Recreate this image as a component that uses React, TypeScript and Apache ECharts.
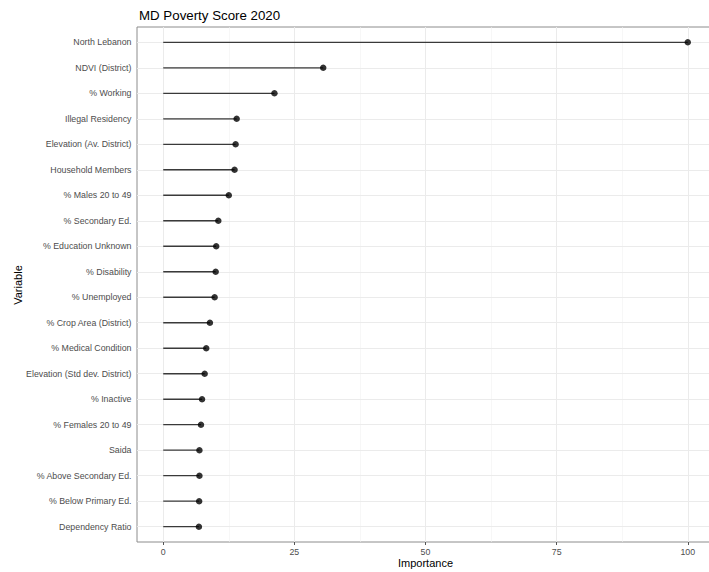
import React, { useEffect, useRef } from "react";
import * as echarts from "echarts";

const variables: string[] = [
  "North Lebanon",
  "NDVI (District)",
  "% Working",
  "Illegal Residency",
  "Elevation (Av. District)",
  "Household Members",
  "% Males 20 to 49",
  "% Secondary Ed.",
  "% Education Unknown",
  "% Disability",
  "% Unemployed",
  "% Crop Area (District)",
  "% Medical Condition",
  "Elevation (Std dev. District)",
  "% Inactive",
  "% Females 20 to 49",
  "Saida",
  "% Above Secondary Ed.",
  "% Below Primary Ed.",
  "Dependency Ratio",
];

const importance: number[] = [
  100, 30.5, 21.2, 14.0, 13.8, 13.6, 12.5, 10.5, 10.1, 10.0, 9.8, 8.9, 8.2, 7.9,
  7.4, 7.2, 6.9, 6.9, 6.85, 6.8,
];

const xMajorTicks: number[] = [0, 25, 50, 75, 100];
const xMinorTicks: number[] = [12.5, 37.5, 62.5, 87.5];

const FONT = "'Liberation Sans', Arial, Helvetica, sans-serif";

export default function App() {
  const ref = useRef<HTMLDivElement>(null);

  useEffect(() => {
    document.body.style.margin = "0";
    if (!ref.current) return;
    const chart = echarts.init(ref.current, undefined, { renderer: "svg" });

    const positions = variables.map((_, i) => i + 1);
    const data = importance.map((v, i) => [v, i + 1]);

    const gridLines: any[] = [
      ...xMinorTicks.map((v) => ({
        xAxis: v,
        lineStyle: { color: "#F2F2F2", width: 0.6, type: "solid" },
      })),
      ...xMajorTicks.map((v) => ({
        xAxis: v,
        lineStyle: { color: "#EBEBEB", width: 1, type: "solid" },
      })),
      ...positions.map((p) => ({
        yAxis: p,
        lineStyle: { color: "#EBEBEB", width: 1, type: "solid" },
      })),
    ];

    chart.setOption({
      animation: false,
      backgroundColor: "#ffffff",
      textStyle: { fontFamily: FONT },
      title: {
        text: "MD Poverty Score 2020",
        left: 134,
        top: 4,
        textStyle: {
          fontFamily: FONT,
          fontSize: 13.3,
          fontWeight: "normal",
          color: "#000000",
        },
      },
      graphic: [
        {
          type: "text",
          x: 18,
          y: 285,
          rotation: Math.PI / 2,
          silent: true,
          style: {
            text: "Variable",
            fontFamily: FONT,
            fontSize: 11,
            fill: "#000000",
            align: "center",
            verticalAlign: "middle",
          },
        },
        {
          type: "text",
          x: 425.5,
          y: 563,
          silent: true,
          style: {
            text: "Importance",
            fontFamily: FONT,
            fontSize: 11,
            fill: "#000000",
            align: "center",
            verticalAlign: "middle",
          },
        },
      ],
      grid: {
        left: 137,
        top: 27,
        width: 577,
        height: 515,
        show: true,
        borderColor: "#8c8c8c",
        borderWidth: 1,
        backgroundColor: "#ffffff",
        containLabel: false,
        outerBoundsMode: "none",
      },
      xAxis: {
        type: "value",
        min: -5,
        max: 105,
        axisLine: { show: false },
        splitLine: { show: false },
        axisTick: {
          show: true,
          customValues: xMajorTicks,
          length: 3,
          lineStyle: { color: "#555555", width: 1 },
        },
        axisLabel: {
          customValues: xMajorTicks,
          margin: 5,
          fontFamily: FONT,
          fontSize: 8.8,
          color: "#4D4D4D",
        },
      },
      yAxis: {
        type: "value",
        min: 0.4,
        max: 20.6,
        inverse: true,
        axisLine: { show: false },
        splitLine: { show: false },
        axisTick: {
          show: true,
          customValues: positions,
          length: 3,
          lineStyle: { color: "#555555", width: 1 },
        },
        axisLabel: {
          customValues: positions,
          margin: 5.5,
          fontFamily: FONT,
          fontSize: 8.8,
          color: "#4D4D4D",
          formatter: (val: number) => variables[Math.round(val) - 1] ?? "",
        },
      },
      series: [
        {
          type: "custom",
          z: 3,
          silent: true,
          data,
          encode: { x: 0, y: 1 },
          renderItem: (_params: any, api: any) => {
            const v = api.value(0);
            const y = api.value(1);
            const s = api.coord([0, y]);
            const e = api.coord([v, y]);
            return {
              type: "line",
              shape: { x1: s[0], y1: s[1], x2: e[0], y2: e[1] },
              style: { stroke: "#3a3a3a", lineWidth: 1.3 },
            };
          },
          markLine: {
            silent: true,
            z: 1,
            symbol: ["none", "none"],
            label: { show: false },
            emphasis: { disabled: true },
            data: gridLines,
          },
        },
        {
          type: "scatter",
          z: 4,
          silent: true,
          data,
          symbol: "circle",
          symbolSize: 6.5,
          itemStyle: { color: "#000000" },
        },
      ],
    });

    return () => {
      chart.dispose();
    };
  }, []);

  return (
    <div
      ref={ref}
      style={{ position: "fixed", left: 0, top: 0, width: 709, height: 572 }}
    />
  );
}
